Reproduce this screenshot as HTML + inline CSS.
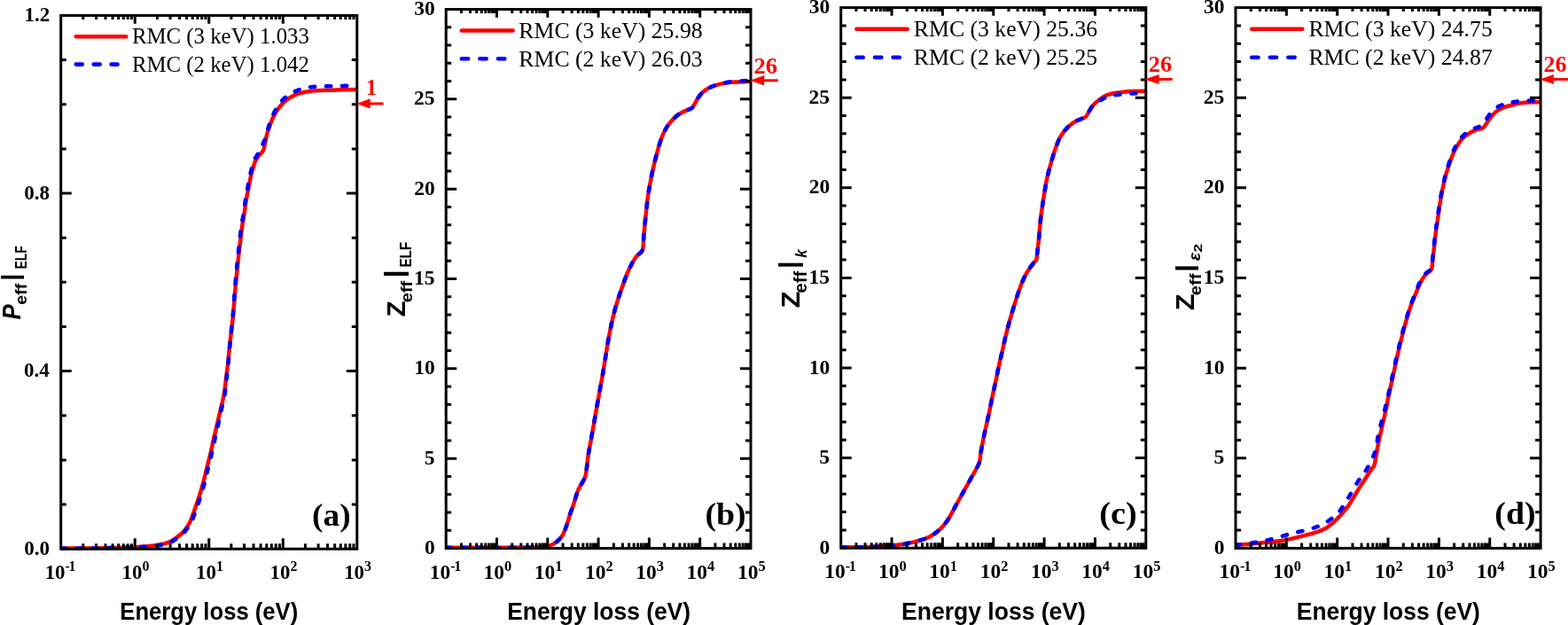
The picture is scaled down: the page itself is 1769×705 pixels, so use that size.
<!DOCTYPE html>
<html><head><meta charset="utf-8"><title>Effective number of electrons</title><style>html,body{margin:0;padding:0;background:#fff;overflow:hidden;}svg{display:block;}</style></head><body>
<svg width="1769" height="705" viewBox="0 0 1769 705">
<rect x="0" y="0" width="1769" height="705" fill="#fff"/>
<clipPath id="clipa"><rect x="68.7" y="15.95" width="334.10" height="604.45"/></clipPath>
<g clip-path="url(#clipa)" fill="none" stroke-linejoin="round">
<path d="M68.70,618.60 C75.58,618.55 96.12,618.52 110.00,618.30 C123.88,618.08 141.08,617.80 152.00,617.30 C162.92,616.80 170.00,615.97 175.50,615.30 C181.00,614.63 182.17,614.05 185.00,613.30 C187.83,612.55 189.83,612.18 192.50,610.80 C195.17,609.42 198.42,607.02 201.00,605.00 C203.58,602.98 205.83,601.28 208.00,598.70 C210.17,596.12 212.33,592.73 214.00,589.50 C215.67,586.27 216.33,583.85 218.00,579.30 C219.67,574.75 222.15,567.88 224.00,562.20 C225.85,556.52 227.55,550.88 229.10,545.20 C230.65,539.52 231.88,533.78 233.30,528.10 C234.72,522.42 236.27,516.77 237.60,511.10 C238.93,505.43 240.07,499.53 241.30,494.10 C242.53,488.67 243.77,483.78 245.00,478.50 C246.23,473.22 247.42,467.93 248.70,462.40 C249.98,456.87 251.67,450.98 252.70,445.30 C253.73,439.62 254.18,433.97 254.90,428.30 C255.62,422.63 256.42,416.52 257.00,411.30 C257.58,406.08 257.88,401.98 258.40,397.00 C258.92,392.02 259.33,388.27 260.10,381.40 C260.87,374.53 262.07,365.52 263.00,355.80 C263.93,346.08 264.70,333.98 265.70,323.10 C266.70,312.22 267.80,301.37 269.00,290.50 C270.20,279.63 271.78,266.32 272.90,257.90 C274.02,249.48 274.88,245.45 275.70,240.00 C276.52,234.55 276.98,230.03 277.80,225.20 C278.62,220.37 279.65,215.73 280.60,211.00 C281.55,206.27 282.32,201.53 283.50,196.80 C284.68,192.07 286.28,186.15 287.70,182.60 C289.12,179.05 290.45,177.63 292.00,175.50 C293.55,173.37 295.82,172.17 297.00,169.80 C298.18,167.43 298.40,164.37 299.10,161.30 C299.80,158.23 300.48,154.18 301.20,151.40 C301.92,148.62 302.20,147.87 303.40,144.60 C304.60,141.33 306.38,135.82 308.40,131.80 C310.42,127.78 312.67,123.93 315.50,120.50 C318.33,117.07 321.87,113.68 325.40,111.20 C328.93,108.72 332.45,107.02 336.70,105.60 C340.95,104.18 344.98,103.35 350.90,102.70 C356.82,102.05 363.57,101.98 372.20,101.70 C380.83,101.42 397.62,101.12 402.70,101.00" stroke="#ff0000" stroke-width="4.5" stroke-linecap="round"/>
<path d="M68.70,618.60 C75.58,618.55 96.12,618.50 110.00,618.30 C123.88,618.10 141.08,617.85 152.00,617.40 C162.92,616.95 170.00,616.18 175.50,615.60 C181.00,615.02 182.17,614.57 185.00,613.90 C187.83,613.23 189.83,612.88 192.50,611.60 C195.17,610.32 198.42,608.10 201.00,606.20 C203.58,604.30 205.67,602.82 208.00,600.20 C210.33,597.58 213.08,593.90 215.00,590.50 C216.92,587.10 217.75,584.47 219.50,579.80 C221.25,575.13 223.65,568.27 225.50,562.50 C227.35,556.73 229.07,550.93 230.60,545.20 C232.13,539.47 233.30,533.78 234.70,528.10 C236.10,522.42 237.68,516.77 239.00,511.10 C240.32,505.43 241.40,499.53 242.60,494.10 C243.80,488.67 245.02,483.78 246.20,478.50 C247.38,473.22 248.48,467.93 249.70,462.40 C250.92,456.87 252.53,450.98 253.50,445.30 C254.47,439.62 254.85,433.97 255.50,428.30 C256.15,422.63 256.88,416.52 257.40,411.30 C257.92,406.08 258.15,401.98 258.60,397.00 C259.05,392.02 259.40,388.32 260.10,381.40 C260.80,374.48 261.93,365.32 262.80,355.50 C263.67,345.68 264.37,333.50 265.30,322.50 C266.23,311.50 267.25,300.50 268.40,289.50 C269.55,278.50 271.10,264.75 272.20,256.50 C273.30,248.25 274.20,245.25 275.00,240.00 C275.80,234.75 276.23,229.83 277.00,225.00 C277.77,220.17 278.70,215.75 279.60,211.00 C280.50,206.25 281.30,201.33 282.40,196.50 C283.50,191.67 284.93,185.55 286.20,182.00 C287.47,178.45 288.67,177.42 290.00,175.20 C291.33,172.98 293.03,170.98 294.20,168.70 C295.37,166.42 296.05,163.87 297.00,161.50 C297.95,159.13 298.72,158.15 299.90,154.50 C301.08,150.85 302.45,144.33 304.10,139.60 C305.75,134.87 307.43,130.47 309.80,126.10 C312.17,121.73 315.00,116.93 318.30,113.40 C321.60,109.87 325.35,107.27 329.60,104.90 C333.85,102.53 338.58,100.43 343.80,99.20 C349.02,97.97 354.52,97.85 360.90,97.50 C367.28,97.15 375.13,97.28 382.10,97.10 C389.07,96.92 399.27,96.52 402.70,96.40" stroke="#0000ff" stroke-width="4.6" stroke-linecap="round" stroke-dasharray="5.2 12.8"/>
</g>
<path d="M93.84,619.2 V613.2 M93.84,17.45 V21.95 M108.55,619.2 V613.2 M108.55,17.45 V21.95 M118.99,619.2 V613.2 M118.99,17.45 V21.95 M127.08,619.2 V613.2 M127.08,17.45 V21.95 M133.70,619.2 V613.2 M133.70,17.45 V21.95 M139.29,619.2 V613.2 M139.29,17.45 V21.95 M144.13,619.2 V613.2 M144.13,17.45 V21.95 M148.40,619.2 V613.2 M148.40,17.45 V21.95 M152.23,619.2 V607.2 M152.23,17.45 V26.65 M177.37,619.2 V613.2 M177.37,17.45 V21.95 M192.08,619.2 V613.2 M192.08,17.45 V21.95 M202.51,619.2 V613.2 M202.51,17.45 V21.95 M210.61,619.2 V613.2 M210.61,17.45 V21.95 M217.22,619.2 V613.2 M217.22,17.45 V21.95 M222.81,619.2 V613.2 M222.81,17.45 V21.95 M227.66,619.2 V613.2 M227.66,17.45 V21.95 M231.93,619.2 V613.2 M231.93,17.45 V21.95 M235.75,619.2 V607.2 M235.75,17.45 V26.65 M260.89,619.2 V613.2 M260.89,17.45 V21.95 M275.60,619.2 V613.2 M275.60,17.45 V21.95 M286.04,619.2 V613.2 M286.04,17.45 V21.95 M294.13,619.2 V613.2 M294.13,17.45 V21.95 M300.75,619.2 V613.2 M300.75,17.45 V21.95 M306.34,619.2 V613.2 M306.34,17.45 V21.95 M311.18,619.2 V613.2 M311.18,17.45 V21.95 M315.45,619.2 V613.2 M315.45,17.45 V21.95 M319.28,619.2 V607.2 M319.28,17.45 V26.65 M344.42,619.2 V613.2 M344.42,17.45 V21.95 M359.13,619.2 V613.2 M359.13,17.45 V21.95 M369.56,619.2 V613.2 M369.56,17.45 V21.95 M377.66,619.2 V613.2 M377.66,17.45 V21.95 M384.27,619.2 V613.2 M384.27,17.45 V21.95 M389.86,619.2 V613.2 M389.86,17.45 V21.95 M394.71,619.2 V613.2 M394.71,17.45 V21.95 M398.98,619.2 V613.2 M398.98,17.45 V21.95 M68.7,569.05 H74.7 M402.8,569.05 H396.8 M68.7,518.91 H74.7 M402.8,518.91 H396.8 M68.7,468.76 H74.7 M402.8,468.76 H396.8 M68.7,418.62 H80.7 M402.8,418.62 H390.8 M68.7,368.47 H74.7 M402.8,368.47 H396.8 M68.7,318.32 H74.7 M402.8,318.32 H396.8 M68.7,268.18 H74.7 M402.8,268.18 H396.8 M68.7,218.03 H80.7 M402.8,218.03 H390.8 M68.7,167.89 H74.7 M402.8,167.89 H396.8 M68.7,117.74 H74.7 M402.8,117.74 H396.8 M68.7,67.60 H74.7 M402.8,67.60 H396.8" stroke="#000" stroke-width="3.0" fill="none"/>
<rect x="68.7" y="17.45" width="334.10" height="601.75" fill="none" stroke="#000" stroke-width="3.0"/>
<clipPath id="clipb"><rect x="503.2" y="9.0" width="343.80" height="610.70"/></clipPath>
<g clip-path="url(#clipb)" fill="none" stroke-linejoin="round">
<path d="M503.20,617.80 C512.67,617.80 543.87,617.85 560.00,617.80 C576.13,617.75 591.33,617.63 600.00,617.50 C608.67,617.37 608.65,617.32 612.00,617.00 C615.35,616.68 617.33,616.65 620.10,615.60 C622.87,614.55 626.18,612.65 628.60,610.70 C631.02,608.75 632.88,606.73 634.60,603.90 C636.32,601.07 637.48,597.67 638.90,593.70 C640.32,589.73 641.68,584.37 643.10,580.10 C644.52,575.83 645.98,572.37 647.40,568.10 C648.82,563.83 650.18,558.18 651.60,554.50 C653.02,550.82 654.48,548.70 655.90,546.00 C657.32,543.30 659.12,541.13 660.10,538.30 C661.08,535.47 661.22,533.12 661.80,529.00 C662.38,524.88 662.88,518.43 663.60,513.60 C664.32,508.77 665.38,503.93 666.10,500.00 C666.82,496.07 666.65,497.08 667.90,490.00 C669.15,482.92 672.08,466.02 673.60,457.50 C675.12,448.98 675.87,445.15 677.00,438.90 C678.13,432.65 679.43,425.68 680.40,420.00 C681.37,414.32 681.60,412.05 682.80,404.80 C684.00,397.55 685.85,385.48 687.60,376.50 C689.35,367.52 691.17,358.95 693.30,350.90 C695.43,342.85 697.80,335.77 700.40,328.20 C703.00,320.63 706.07,311.88 708.90,305.50 C711.73,299.12 714.73,293.82 717.40,289.90 C720.07,285.98 723.40,286.20 724.90,282.00 C726.40,277.80 725.80,271.07 726.40,264.70 C727.00,258.33 727.77,250.75 728.50,243.80 C729.23,236.85 729.92,229.45 730.80,223.00 C731.68,216.55 732.80,210.57 733.80,205.10 C734.80,199.63 735.55,195.67 736.80,190.20 C738.05,184.73 739.82,177.75 741.30,172.30 C742.78,166.85 744.22,161.72 745.70,157.50 C747.18,153.28 748.47,150.23 750.20,147.00 C751.93,143.77 753.87,140.83 756.10,138.10 C758.33,135.37 761.12,132.62 763.60,130.60 C766.08,128.58 768.85,127.13 771.00,126.00 C773.15,124.87 774.82,124.57 776.50,123.80 C778.18,123.03 779.77,122.72 781.10,121.40 C782.43,120.08 783.37,117.82 784.50,115.90 C785.63,113.98 786.48,111.90 787.90,109.90 C789.32,107.90 791.02,105.67 793.00,103.90 C794.98,102.13 797.25,100.63 799.80,99.30 C802.35,97.97 804.75,96.90 808.30,95.90 C811.85,94.90 816.85,93.88 821.10,93.30 C825.35,92.72 829.48,92.63 833.80,92.40 C838.12,92.17 844.80,91.98 847.00,91.90" stroke="#ff0000" stroke-width="4.5" stroke-linecap="round"/>
<path d="M503.20,617.80 C512.67,617.80 543.87,617.85 560.00,617.80 C576.13,617.75 591.33,617.63 600.00,617.50 C608.67,617.37 608.65,617.32 612.00,617.00 C615.35,616.68 617.33,616.65 620.10,615.60 C622.87,614.55 626.18,612.65 628.60,610.70 C631.02,608.75 632.88,606.73 634.60,603.90 C636.32,601.07 637.48,597.67 638.90,593.70 C640.32,589.73 641.68,584.37 643.10,580.10 C644.52,575.83 645.98,572.37 647.40,568.10 C648.82,563.83 650.18,558.18 651.60,554.50 C653.02,550.82 654.48,548.70 655.90,546.00 C657.32,543.30 659.12,541.13 660.10,538.30 C661.08,535.47 661.22,533.12 661.80,529.00 C662.38,524.88 662.88,518.43 663.60,513.60 C664.32,508.77 665.38,503.93 666.10,500.00 C666.82,496.07 666.65,497.08 667.90,490.00 C669.15,482.92 672.08,466.02 673.60,457.50 C675.12,448.98 675.87,445.15 677.00,438.90 C678.13,432.65 679.43,425.68 680.40,420.00 C681.37,414.32 681.60,412.05 682.80,404.80 C684.00,397.55 685.85,385.48 687.60,376.50 C689.35,367.52 691.17,358.95 693.30,350.90 C695.43,342.85 697.80,335.77 700.40,328.20 C703.00,320.63 706.07,311.88 708.90,305.50 C711.73,299.12 714.73,293.82 717.40,289.90 C720.07,285.98 723.40,286.20 724.90,282.00 C726.40,277.80 725.80,271.07 726.40,264.70 C727.00,258.33 727.77,250.75 728.50,243.80 C729.23,236.85 729.92,229.45 730.80,223.00 C731.68,216.55 732.80,210.57 733.80,205.10 C734.80,199.63 735.55,195.67 736.80,190.20 C738.05,184.73 739.82,177.75 741.30,172.30 C742.78,166.85 744.22,161.72 745.70,157.50 C747.18,153.28 748.47,150.23 750.20,147.00 C751.93,143.77 753.87,140.83 756.10,138.10 C758.33,135.37 761.12,132.62 763.60,130.60 C766.08,128.58 768.85,127.13 771.00,126.00 C773.15,124.87 774.82,124.57 776.50,123.80 C778.18,123.03 779.77,122.72 781.10,121.40 C782.43,120.08 783.37,117.82 784.50,115.90 C785.63,113.98 786.48,111.90 787.90,109.90 C789.32,107.90 791.02,105.67 793.00,103.90 C794.98,102.13 797.25,100.63 799.80,99.30 C802.35,97.97 804.75,97.00 808.30,95.90 C811.85,94.80 816.85,93.42 821.10,92.70 C825.35,91.98 829.48,91.90 833.80,91.60 C838.12,91.30 844.80,91.02 847.00,90.90" stroke="#0000ff" stroke-width="4.6" stroke-linecap="round" stroke-dasharray="5.2 12.8"/>
</g>
<path d="M520.45,618.5 V612.5 M520.45,10.5 V15.0 M530.54,618.5 V612.5 M530.54,10.5 V15.0 M537.70,618.5 V612.5 M537.70,10.5 V15.0 M543.25,618.5 V612.5 M543.25,10.5 V15.0 M547.79,618.5 V612.5 M547.79,10.5 V15.0 M551.62,618.5 V612.5 M551.62,10.5 V15.0 M554.95,618.5 V612.5 M554.95,10.5 V15.0 M557.88,618.5 V612.5 M557.88,10.5 V15.0 M560.50,618.5 V606.5 M560.50,10.5 V19.7 M577.75,618.5 V612.5 M577.75,10.5 V15.0 M587.84,618.5 V612.5 M587.84,10.5 V15.0 M595.00,618.5 V612.5 M595.00,10.5 V15.0 M600.55,618.5 V612.5 M600.55,10.5 V15.0 M605.09,618.5 V612.5 M605.09,10.5 V15.0 M608.92,618.5 V612.5 M608.92,10.5 V15.0 M612.25,618.5 V612.5 M612.25,10.5 V15.0 M615.18,618.5 V612.5 M615.18,10.5 V15.0 M617.80,618.5 V606.5 M617.80,10.5 V19.7 M635.05,618.5 V612.5 M635.05,10.5 V15.0 M645.14,618.5 V612.5 M645.14,10.5 V15.0 M652.30,618.5 V612.5 M652.30,10.5 V15.0 M657.85,618.5 V612.5 M657.85,10.5 V15.0 M662.39,618.5 V612.5 M662.39,10.5 V15.0 M666.22,618.5 V612.5 M666.22,10.5 V15.0 M669.55,618.5 V612.5 M669.55,10.5 V15.0 M672.48,618.5 V612.5 M672.48,10.5 V15.0 M675.10,618.5 V606.5 M675.10,10.5 V19.7 M692.35,618.5 V612.5 M692.35,10.5 V15.0 M702.44,618.5 V612.5 M702.44,10.5 V15.0 M709.60,618.5 V612.5 M709.60,10.5 V15.0 M715.15,618.5 V612.5 M715.15,10.5 V15.0 M719.69,618.5 V612.5 M719.69,10.5 V15.0 M723.52,618.5 V612.5 M723.52,10.5 V15.0 M726.85,618.5 V612.5 M726.85,10.5 V15.0 M729.78,618.5 V612.5 M729.78,10.5 V15.0 M732.40,618.5 V606.5 M732.40,10.5 V19.7 M749.65,618.5 V612.5 M749.65,10.5 V15.0 M759.74,618.5 V612.5 M759.74,10.5 V15.0 M766.90,618.5 V612.5 M766.90,10.5 V15.0 M772.45,618.5 V612.5 M772.45,10.5 V15.0 M776.99,618.5 V612.5 M776.99,10.5 V15.0 M780.82,618.5 V612.5 M780.82,10.5 V15.0 M784.15,618.5 V612.5 M784.15,10.5 V15.0 M787.08,618.5 V612.5 M787.08,10.5 V15.0 M789.70,618.5 V606.5 M789.70,10.5 V19.7 M806.95,618.5 V612.5 M806.95,10.5 V15.0 M817.04,618.5 V612.5 M817.04,10.5 V15.0 M824.20,618.5 V612.5 M824.20,10.5 V15.0 M829.75,618.5 V612.5 M829.75,10.5 V15.0 M834.29,618.5 V612.5 M834.29,10.5 V15.0 M838.12,618.5 V612.5 M838.12,10.5 V15.0 M841.45,618.5 V612.5 M841.45,10.5 V15.0 M844.38,618.5 V612.5 M844.38,10.5 V15.0 M503.2,598.23 H509.2 M847.0,598.23 H841.0 M503.2,577.97 H509.2 M847.0,577.97 H841.0 M503.2,557.70 H509.2 M847.0,557.70 H841.0 M503.2,537.43 H509.2 M847.0,537.43 H841.0 M503.2,517.17 H515.2 M847.0,517.17 H835.0 M503.2,496.90 H509.2 M847.0,496.90 H841.0 M503.2,476.63 H509.2 M847.0,476.63 H841.0 M503.2,456.37 H509.2 M847.0,456.37 H841.0 M503.2,436.10 H509.2 M847.0,436.10 H841.0 M503.2,415.83 H515.2 M847.0,415.83 H835.0 M503.2,395.57 H509.2 M847.0,395.57 H841.0 M503.2,375.30 H509.2 M847.0,375.30 H841.0 M503.2,355.03 H509.2 M847.0,355.03 H841.0 M503.2,334.77 H509.2 M847.0,334.77 H841.0 M503.2,314.50 H515.2 M847.0,314.50 H835.0 M503.2,294.23 H509.2 M847.0,294.23 H841.0 M503.2,273.97 H509.2 M847.0,273.97 H841.0 M503.2,253.70 H509.2 M847.0,253.70 H841.0 M503.2,233.43 H509.2 M847.0,233.43 H841.0 M503.2,213.17 H515.2 M847.0,213.17 H835.0 M503.2,192.90 H509.2 M847.0,192.90 H841.0 M503.2,172.63 H509.2 M847.0,172.63 H841.0 M503.2,152.37 H509.2 M847.0,152.37 H841.0 M503.2,132.10 H509.2 M847.0,132.10 H841.0 M503.2,111.83 H515.2 M847.0,111.83 H835.0 M503.2,91.57 H509.2 M847.0,91.57 H841.0 M503.2,71.30 H509.2 M847.0,71.30 H841.0 M503.2,51.03 H509.2 M847.0,51.03 H841.0 M503.2,30.77 H509.2 M847.0,30.77 H841.0" stroke="#000" stroke-width="3.0" fill="none"/>
<rect x="503.2" y="10.5" width="343.80" height="608.00" fill="none" stroke="#000" stroke-width="3.0"/>
<clipPath id="clipc"><rect x="948.7" y="7.1" width="344.10" height="612.30"/></clipPath>
<g clip-path="url(#clipc)" fill="none" stroke-linejoin="round">
<path d="M948.70,617.40 C953.92,617.33 971.28,617.28 980.00,617.00 C988.72,616.72 994.65,616.20 1001.00,615.70 C1007.35,615.20 1012.42,614.90 1018.10,614.00 C1023.78,613.10 1030.00,611.72 1035.10,610.30 C1040.20,608.88 1044.45,607.72 1048.70,605.50 C1052.95,603.28 1057.20,600.12 1060.60,597.00 C1064.00,593.88 1066.25,591.05 1069.10,586.80 C1071.95,582.55 1074.85,576.60 1077.70,571.50 C1080.55,566.40 1083.37,561.30 1086.20,556.20 C1089.03,551.10 1091.67,546.43 1094.70,540.90 C1097.73,535.37 1102.47,527.82 1104.40,523.00 C1106.33,518.18 1105.68,515.53 1106.30,512.00 C1106.92,508.47 1107.33,505.78 1108.10,501.80 C1108.87,497.82 1109.62,494.07 1110.90,488.10 C1112.18,482.13 1114.28,473.10 1115.80,466.00 C1117.32,458.90 1118.72,451.60 1120.00,445.50 C1121.28,439.40 1122.33,434.92 1123.50,429.40 C1124.67,423.88 1125.82,417.83 1127.00,412.40 C1128.18,406.97 1129.42,402.02 1130.60,396.80 C1131.78,391.58 1132.92,386.08 1134.10,381.10 C1135.28,376.12 1136.50,371.40 1137.70,366.90 C1138.90,362.40 1140.00,358.50 1141.30,354.10 C1142.60,349.70 1144.15,344.75 1145.50,340.50 C1146.85,336.25 1148.00,332.57 1149.40,328.60 C1150.80,324.63 1152.48,320.02 1153.90,316.70 C1155.32,313.38 1156.50,311.18 1157.90,308.70 C1159.30,306.22 1160.82,303.95 1162.30,301.80 C1163.78,299.65 1165.63,297.30 1166.80,295.80 C1167.97,294.30 1168.72,294.62 1169.30,292.80 C1169.88,290.98 1169.97,287.70 1170.30,284.90 C1170.63,282.10 1171.00,278.70 1171.30,276.00 C1171.60,273.30 1171.60,273.88 1172.10,268.70 C1172.60,263.52 1173.43,252.35 1174.30,244.90 C1175.17,237.45 1176.22,230.95 1177.30,224.00 C1178.38,217.05 1179.47,209.65 1180.80,203.20 C1182.13,196.75 1183.80,190.77 1185.30,185.30 C1186.80,179.83 1188.07,175.37 1189.80,170.40 C1191.53,165.43 1193.47,159.72 1195.70,155.50 C1197.93,151.28 1200.47,148.07 1203.20,145.10 C1205.93,142.13 1209.47,139.47 1212.10,137.70 C1214.73,135.93 1216.82,135.53 1219.00,134.50 C1221.18,133.47 1223.45,133.20 1225.20,131.50 C1226.95,129.80 1228.08,126.50 1229.50,124.30 C1230.92,122.10 1231.87,120.30 1233.70,118.30 C1235.53,116.30 1237.95,114.15 1240.50,112.30 C1243.05,110.45 1245.87,108.47 1249.00,107.20 C1252.13,105.93 1255.03,105.40 1259.30,104.70 C1263.57,104.00 1269.02,103.33 1274.60,103.00 C1280.18,102.67 1289.77,102.75 1292.80,102.70" stroke="#ff0000" stroke-width="4.5" stroke-linecap="round"/>
<path d="M948.70,617.40 C953.92,617.33 971.28,617.28 980.00,617.00 C988.72,616.72 994.65,616.20 1001.00,615.70 C1007.35,615.20 1012.42,614.90 1018.10,614.00 C1023.78,613.10 1030.00,611.72 1035.10,610.30 C1040.20,608.88 1044.45,607.72 1048.70,605.50 C1052.95,603.28 1057.20,600.12 1060.60,597.00 C1064.00,593.88 1066.25,591.05 1069.10,586.80 C1071.95,582.55 1074.85,576.60 1077.70,571.50 C1080.55,566.40 1083.37,561.30 1086.20,556.20 C1089.03,551.10 1091.67,546.43 1094.70,540.90 C1097.73,535.37 1102.47,527.82 1104.40,523.00 C1106.33,518.18 1105.68,515.53 1106.30,512.00 C1106.92,508.47 1107.33,505.78 1108.10,501.80 C1108.87,497.82 1109.62,494.07 1110.90,488.10 C1112.18,482.13 1114.28,473.10 1115.80,466.00 C1117.32,458.90 1118.72,451.60 1120.00,445.50 C1121.28,439.40 1122.33,434.92 1123.50,429.40 C1124.67,423.88 1125.82,417.83 1127.00,412.40 C1128.18,406.97 1129.42,402.02 1130.60,396.80 C1131.78,391.58 1132.92,386.08 1134.10,381.10 C1135.28,376.12 1136.50,371.40 1137.70,366.90 C1138.90,362.40 1140.00,358.50 1141.30,354.10 C1142.60,349.70 1144.15,344.75 1145.50,340.50 C1146.85,336.25 1148.00,332.57 1149.40,328.60 C1150.80,324.63 1152.48,320.02 1153.90,316.70 C1155.32,313.38 1156.50,311.18 1157.90,308.70 C1159.30,306.22 1160.82,303.95 1162.30,301.80 C1163.78,299.65 1165.63,297.30 1166.80,295.80 C1167.97,294.30 1168.72,294.62 1169.30,292.80 C1169.88,290.98 1169.97,287.70 1170.30,284.90 C1170.63,282.10 1171.00,278.70 1171.30,276.00 C1171.60,273.30 1171.60,273.88 1172.10,268.70 C1172.60,263.52 1173.43,252.35 1174.30,244.90 C1175.17,237.45 1176.22,230.95 1177.30,224.00 C1178.38,217.05 1179.47,209.65 1180.80,203.20 C1182.13,196.75 1183.80,190.77 1185.30,185.30 C1186.80,179.83 1188.07,175.37 1189.80,170.40 C1191.53,165.43 1193.47,159.72 1195.70,155.50 C1197.93,151.28 1200.47,148.07 1203.20,145.10 C1205.93,142.13 1209.47,139.47 1212.10,137.70 C1214.73,135.93 1216.82,135.53 1219.00,134.50 C1221.18,133.47 1223.45,133.20 1225.20,131.50 C1226.95,129.80 1228.08,126.50 1229.50,124.30 C1230.92,122.10 1231.87,120.05 1233.70,118.30 C1235.53,116.55 1237.95,115.32 1240.50,113.80 C1243.05,112.28 1245.87,110.33 1249.00,109.20 C1252.13,108.07 1255.03,107.62 1259.30,107.00 C1263.57,106.38 1269.02,105.82 1274.60,105.50 C1280.18,105.18 1289.77,105.17 1292.80,105.10" stroke="#0000ff" stroke-width="4.6" stroke-linecap="round" stroke-dasharray="5.2 12.8"/>
</g>
<path d="M965.96,618.2 V612.2 M965.96,8.6 V13.1 M976.06,618.2 V612.2 M976.06,8.6 V13.1 M983.23,618.2 V612.2 M983.23,8.6 V13.1 M988.79,618.2 V612.2 M988.79,8.6 V13.1 M993.33,618.2 V612.2 M993.33,8.6 V13.1 M997.17,618.2 V612.2 M997.17,8.6 V13.1 M1000.49,618.2 V612.2 M1000.49,8.6 V13.1 M1003.43,618.2 V612.2 M1003.43,8.6 V13.1 M1006.05,618.2 V606.2 M1006.05,8.6 V17.799999999999997 M1023.31,618.2 V612.2 M1023.31,8.6 V13.1 M1033.41,618.2 V612.2 M1033.41,8.6 V13.1 M1040.58,618.2 V612.2 M1040.58,8.6 V13.1 M1046.14,618.2 V612.2 M1046.14,8.6 V13.1 M1050.68,618.2 V612.2 M1050.68,8.6 V13.1 M1054.52,618.2 V612.2 M1054.52,8.6 V13.1 M1057.84,618.2 V612.2 M1057.84,8.6 V13.1 M1060.78,618.2 V612.2 M1060.78,8.6 V13.1 M1063.40,618.2 V606.2 M1063.40,8.6 V17.799999999999997 M1080.66,618.2 V612.2 M1080.66,8.6 V13.1 M1090.76,618.2 V612.2 M1090.76,8.6 V13.1 M1097.93,618.2 V612.2 M1097.93,8.6 V13.1 M1103.49,618.2 V612.2 M1103.49,8.6 V13.1 M1108.03,618.2 V612.2 M1108.03,8.6 V13.1 M1111.87,618.2 V612.2 M1111.87,8.6 V13.1 M1115.19,618.2 V612.2 M1115.19,8.6 V13.1 M1118.13,618.2 V612.2 M1118.13,8.6 V13.1 M1120.75,618.2 V606.2 M1120.75,8.6 V17.799999999999997 M1138.01,618.2 V612.2 M1138.01,8.6 V13.1 M1148.11,618.2 V612.2 M1148.11,8.6 V13.1 M1155.28,618.2 V612.2 M1155.28,8.6 V13.1 M1160.84,618.2 V612.2 M1160.84,8.6 V13.1 M1165.38,618.2 V612.2 M1165.38,8.6 V13.1 M1169.22,618.2 V612.2 M1169.22,8.6 V13.1 M1172.54,618.2 V612.2 M1172.54,8.6 V13.1 M1175.48,618.2 V612.2 M1175.48,8.6 V13.1 M1178.10,618.2 V606.2 M1178.10,8.6 V17.799999999999997 M1195.36,618.2 V612.2 M1195.36,8.6 V13.1 M1205.46,618.2 V612.2 M1205.46,8.6 V13.1 M1212.63,618.2 V612.2 M1212.63,8.6 V13.1 M1218.19,618.2 V612.2 M1218.19,8.6 V13.1 M1222.73,618.2 V612.2 M1222.73,8.6 V13.1 M1226.57,618.2 V612.2 M1226.57,8.6 V13.1 M1229.89,618.2 V612.2 M1229.89,8.6 V13.1 M1232.83,618.2 V612.2 M1232.83,8.6 V13.1 M1235.45,618.2 V606.2 M1235.45,8.6 V17.799999999999997 M1252.71,618.2 V612.2 M1252.71,8.6 V13.1 M1262.81,618.2 V612.2 M1262.81,8.6 V13.1 M1269.98,618.2 V612.2 M1269.98,8.6 V13.1 M1275.54,618.2 V612.2 M1275.54,8.6 V13.1 M1280.08,618.2 V612.2 M1280.08,8.6 V13.1 M1283.92,618.2 V612.2 M1283.92,8.6 V13.1 M1287.24,618.2 V612.2 M1287.24,8.6 V13.1 M1290.18,618.2 V612.2 M1290.18,8.6 V13.1 M948.7,597.88 H954.7 M1292.8,597.88 H1286.8 M948.7,577.56 H954.7 M1292.8,577.56 H1286.8 M948.7,557.24 H954.7 M1292.8,557.24 H1286.8 M948.7,536.92 H954.7 M1292.8,536.92 H1286.8 M948.7,516.60 H960.7 M1292.8,516.60 H1280.8 M948.7,496.28 H954.7 M1292.8,496.28 H1286.8 M948.7,475.96 H954.7 M1292.8,475.96 H1286.8 M948.7,455.64 H954.7 M1292.8,455.64 H1286.8 M948.7,435.32 H954.7 M1292.8,435.32 H1286.8 M948.7,415.00 H960.7 M1292.8,415.00 H1280.8 M948.7,394.68 H954.7 M1292.8,394.68 H1286.8 M948.7,374.36 H954.7 M1292.8,374.36 H1286.8 M948.7,354.04 H954.7 M1292.8,354.04 H1286.8 M948.7,333.72 H954.7 M1292.8,333.72 H1286.8 M948.7,313.40 H960.7 M1292.8,313.40 H1280.8 M948.7,293.08 H954.7 M1292.8,293.08 H1286.8 M948.7,272.76 H954.7 M1292.8,272.76 H1286.8 M948.7,252.44 H954.7 M1292.8,252.44 H1286.8 M948.7,232.12 H954.7 M1292.8,232.12 H1286.8 M948.7,211.80 H960.7 M1292.8,211.80 H1280.8 M948.7,191.48 H954.7 M1292.8,191.48 H1286.8 M948.7,171.16 H954.7 M1292.8,171.16 H1286.8 M948.7,150.84 H954.7 M1292.8,150.84 H1286.8 M948.7,130.52 H954.7 M1292.8,130.52 H1286.8 M948.7,110.20 H960.7 M1292.8,110.20 H1280.8 M948.7,89.88 H954.7 M1292.8,89.88 H1286.8 M948.7,69.56 H954.7 M1292.8,69.56 H1286.8 M948.7,49.24 H954.7 M1292.8,49.24 H1286.8 M948.7,28.92 H954.7 M1292.8,28.92 H1286.8" stroke="#000" stroke-width="3.0" fill="none"/>
<rect x="948.7" y="8.6" width="344.10" height="609.60" fill="none" stroke="#000" stroke-width="3.0"/>
<clipPath id="clipd"><rect x="1394.0" y="7.1" width="344.10" height="612.50"/></clipPath>
<g clip-path="url(#clipd)" fill="none" stroke-linejoin="round">
<path d="M1394.00,614.90 C1398.25,614.53 1410.98,613.53 1419.50,612.70 C1428.02,611.87 1438.00,610.93 1445.10,609.90 C1452.20,608.87 1457.38,607.55 1462.10,606.50 C1466.82,605.45 1469.30,604.72 1473.40,603.60 C1477.50,602.48 1483.10,601.02 1486.70,599.80 C1490.30,598.58 1492.78,597.47 1495.00,596.30 C1497.22,595.13 1498.35,594.05 1500.00,592.80 C1501.65,591.55 1503.23,590.30 1504.90,588.80 C1506.57,587.30 1508.33,585.57 1510.00,583.80 C1511.67,582.03 1512.93,580.55 1514.90,578.20 C1516.87,575.85 1519.65,572.77 1521.80,569.70 C1523.95,566.63 1525.78,563.10 1527.80,559.80 C1529.82,556.50 1531.82,553.20 1533.90,549.90 C1535.98,546.60 1538.15,543.32 1540.30,540.00 C1542.45,536.68 1545.12,532.50 1546.80,530.00 C1548.48,527.50 1549.52,527.25 1550.40,525.00 C1551.28,522.75 1551.25,521.03 1552.10,516.50 C1552.95,511.97 1554.22,504.03 1555.50,497.80 C1556.78,491.57 1558.38,485.33 1559.80,479.10 C1561.22,472.87 1562.95,465.42 1564.00,460.40 C1565.05,455.38 1565.05,454.02 1566.10,449.00 C1567.15,443.98 1568.88,436.82 1570.30,430.30 C1571.72,423.78 1573.18,416.42 1574.60,409.90 C1576.02,403.38 1577.38,397.15 1578.80,391.20 C1580.22,385.25 1581.68,379.58 1583.10,374.20 C1584.52,368.82 1585.88,363.72 1587.30,358.90 C1588.72,354.08 1589.73,350.43 1591.60,345.30 C1593.47,340.17 1596.63,332.63 1598.50,328.10 C1600.37,323.57 1601.13,321.18 1602.80,318.10 C1604.47,315.02 1606.48,311.97 1608.50,309.60 C1610.52,307.23 1613.60,306.50 1614.90,303.90 C1616.20,301.30 1615.83,297.78 1616.30,294.00 C1616.77,290.22 1617.23,285.47 1617.70,281.20 C1618.17,276.93 1618.63,272.43 1619.10,268.40 C1619.57,264.37 1620.05,260.20 1620.50,257.00 C1620.95,253.80 1621.15,253.62 1621.80,249.20 C1622.45,244.78 1623.40,236.73 1624.40,230.50 C1625.40,224.27 1626.53,217.77 1627.80,211.80 C1629.07,205.83 1630.45,200.10 1632.00,194.70 C1633.55,189.30 1635.38,183.93 1637.10,179.40 C1638.82,174.87 1640.30,171.18 1642.30,167.50 C1644.30,163.82 1646.55,160.15 1649.10,157.30 C1651.65,154.45 1654.77,152.25 1657.60,150.40 C1660.43,148.55 1663.55,147.18 1666.10,146.20 C1668.65,145.22 1670.92,145.92 1672.90,144.50 C1674.88,143.08 1676.30,139.97 1678.00,137.70 C1679.70,135.43 1681.42,132.90 1683.10,130.90 C1684.78,128.90 1685.85,127.33 1688.10,125.70 C1690.35,124.07 1693.33,122.37 1696.60,121.10 C1699.87,119.83 1703.87,119.00 1707.70,118.10 C1711.53,117.20 1714.53,116.17 1719.60,115.70 C1724.67,115.23 1735.02,115.37 1738.10,115.30" stroke="#ff0000" stroke-width="4.5" stroke-linecap="round"/>
<path d="M1394.00,614.90 C1398.25,614.33 1412.40,612.72 1419.50,611.50 C1426.60,610.28 1430.35,609.22 1436.60,607.60 C1442.85,605.98 1450.20,603.57 1457.00,601.80 C1463.80,600.03 1471.15,598.93 1477.40,597.00 C1483.65,595.07 1489.10,593.32 1494.50,590.20 C1499.90,587.08 1505.55,582.75 1509.80,578.30 C1514.05,573.85 1516.35,569.27 1520.00,563.50 C1523.65,557.73 1528.05,549.40 1531.70,543.70 C1535.35,538.00 1538.63,534.97 1541.90,529.30 C1545.17,523.63 1549.08,516.37 1551.30,509.70 C1553.52,503.03 1553.70,495.95 1555.20,489.30 C1556.70,482.65 1558.60,476.45 1560.30,469.80 C1562.00,463.15 1563.85,455.98 1565.40,449.40 C1566.95,442.82 1568.17,436.88 1569.60,430.30 C1571.03,423.72 1572.55,416.42 1574.00,409.90 C1575.45,403.38 1576.87,397.15 1578.30,391.20 C1579.73,385.25 1581.18,379.58 1582.60,374.20 C1584.02,368.82 1585.38,363.72 1586.80,358.90 C1588.22,354.08 1589.23,350.52 1591.10,345.30 C1592.97,340.08 1596.13,332.22 1598.00,327.60 C1599.87,322.98 1600.63,320.70 1602.30,317.60 C1603.97,314.50 1605.95,311.40 1608.00,309.00 C1610.05,306.60 1613.27,305.70 1614.60,303.20 C1615.93,300.70 1615.53,297.67 1616.00,294.00 C1616.47,290.33 1616.93,285.47 1617.40,281.20 C1617.87,276.93 1618.33,272.43 1618.80,268.40 C1619.27,264.37 1619.75,260.20 1620.20,257.00 C1620.65,253.80 1620.87,253.62 1621.50,249.20 C1622.13,244.78 1623.02,236.73 1624.00,230.50 C1624.98,224.27 1626.15,217.77 1627.40,211.80 C1628.65,205.83 1629.98,200.17 1631.50,194.70 C1633.02,189.23 1634.83,183.70 1636.50,179.00 C1638.17,174.30 1639.58,170.33 1641.50,166.50 C1643.42,162.67 1645.58,158.95 1648.00,156.00 C1650.42,153.05 1653.27,150.72 1656.00,148.80 C1658.73,146.88 1662.23,145.50 1664.40,144.50 C1666.57,143.50 1667.32,143.93 1669.00,142.80 C1670.68,141.67 1672.45,140.12 1674.50,137.70 C1676.55,135.28 1678.90,131.07 1681.30,128.30 C1683.70,125.53 1685.63,123.08 1688.90,121.10 C1692.17,119.12 1696.07,117.62 1700.90,116.40 C1705.73,115.18 1711.70,114.30 1717.90,113.80 C1724.10,113.30 1734.73,113.47 1738.10,113.40" stroke="#0000ff" stroke-width="4.6" stroke-linecap="round" stroke-dasharray="5.2 12.8"/>
</g>
<path d="M1411.26,618.4 V612.4 M1411.26,8.6 V13.1 M1421.36,618.4 V612.4 M1421.36,8.6 V13.1 M1428.53,618.4 V612.4 M1428.53,8.6 V13.1 M1434.09,618.4 V612.4 M1434.09,8.6 V13.1 M1438.63,618.4 V612.4 M1438.63,8.6 V13.1 M1442.47,618.4 V612.4 M1442.47,8.6 V13.1 M1445.79,618.4 V612.4 M1445.79,8.6 V13.1 M1448.73,618.4 V612.4 M1448.73,8.6 V13.1 M1451.35,618.4 V606.4 M1451.35,8.6 V17.799999999999997 M1468.61,618.4 V612.4 M1468.61,8.6 V13.1 M1478.71,618.4 V612.4 M1478.71,8.6 V13.1 M1485.88,618.4 V612.4 M1485.88,8.6 V13.1 M1491.44,618.4 V612.4 M1491.44,8.6 V13.1 M1495.98,618.4 V612.4 M1495.98,8.6 V13.1 M1499.82,618.4 V612.4 M1499.82,8.6 V13.1 M1503.14,618.4 V612.4 M1503.14,8.6 V13.1 M1506.08,618.4 V612.4 M1506.08,8.6 V13.1 M1508.70,618.4 V606.4 M1508.70,8.6 V17.799999999999997 M1525.96,618.4 V612.4 M1525.96,8.6 V13.1 M1536.06,618.4 V612.4 M1536.06,8.6 V13.1 M1543.23,618.4 V612.4 M1543.23,8.6 V13.1 M1548.79,618.4 V612.4 M1548.79,8.6 V13.1 M1553.33,618.4 V612.4 M1553.33,8.6 V13.1 M1557.17,618.4 V612.4 M1557.17,8.6 V13.1 M1560.49,618.4 V612.4 M1560.49,8.6 V13.1 M1563.43,618.4 V612.4 M1563.43,8.6 V13.1 M1566.05,618.4 V606.4 M1566.05,8.6 V17.799999999999997 M1583.31,618.4 V612.4 M1583.31,8.6 V13.1 M1593.41,618.4 V612.4 M1593.41,8.6 V13.1 M1600.58,618.4 V612.4 M1600.58,8.6 V13.1 M1606.14,618.4 V612.4 M1606.14,8.6 V13.1 M1610.68,618.4 V612.4 M1610.68,8.6 V13.1 M1614.52,618.4 V612.4 M1614.52,8.6 V13.1 M1617.84,618.4 V612.4 M1617.84,8.6 V13.1 M1620.78,618.4 V612.4 M1620.78,8.6 V13.1 M1623.40,618.4 V606.4 M1623.40,8.6 V17.799999999999997 M1640.66,618.4 V612.4 M1640.66,8.6 V13.1 M1650.76,618.4 V612.4 M1650.76,8.6 V13.1 M1657.93,618.4 V612.4 M1657.93,8.6 V13.1 M1663.49,618.4 V612.4 M1663.49,8.6 V13.1 M1668.03,618.4 V612.4 M1668.03,8.6 V13.1 M1671.87,618.4 V612.4 M1671.87,8.6 V13.1 M1675.19,618.4 V612.4 M1675.19,8.6 V13.1 M1678.13,618.4 V612.4 M1678.13,8.6 V13.1 M1680.75,618.4 V606.4 M1680.75,8.6 V17.799999999999997 M1698.01,618.4 V612.4 M1698.01,8.6 V13.1 M1708.11,618.4 V612.4 M1708.11,8.6 V13.1 M1715.28,618.4 V612.4 M1715.28,8.6 V13.1 M1720.84,618.4 V612.4 M1720.84,8.6 V13.1 M1725.38,618.4 V612.4 M1725.38,8.6 V13.1 M1729.22,618.4 V612.4 M1729.22,8.6 V13.1 M1732.54,618.4 V612.4 M1732.54,8.6 V13.1 M1735.48,618.4 V612.4 M1735.48,8.6 V13.1 M1394.0,598.07 H1400.0 M1738.1,598.07 H1732.1 M1394.0,577.75 H1400.0 M1738.1,577.75 H1732.1 M1394.0,557.42 H1400.0 M1738.1,557.42 H1732.1 M1394.0,537.09 H1400.0 M1738.1,537.09 H1732.1 M1394.0,516.77 H1406.0 M1738.1,516.77 H1726.1 M1394.0,496.44 H1400.0 M1738.1,496.44 H1732.1 M1394.0,476.11 H1400.0 M1738.1,476.11 H1732.1 M1394.0,455.79 H1400.0 M1738.1,455.79 H1732.1 M1394.0,435.46 H1400.0 M1738.1,435.46 H1732.1 M1394.0,415.13 H1406.0 M1738.1,415.13 H1726.1 M1394.0,394.81 H1400.0 M1738.1,394.81 H1732.1 M1394.0,374.48 H1400.0 M1738.1,374.48 H1732.1 M1394.0,354.15 H1400.0 M1738.1,354.15 H1732.1 M1394.0,333.83 H1400.0 M1738.1,333.83 H1732.1 M1394.0,313.50 H1406.0 M1738.1,313.50 H1726.1 M1394.0,293.17 H1400.0 M1738.1,293.17 H1732.1 M1394.0,272.85 H1400.0 M1738.1,272.85 H1732.1 M1394.0,252.52 H1400.0 M1738.1,252.52 H1732.1 M1394.0,232.19 H1400.0 M1738.1,232.19 H1732.1 M1394.0,211.87 H1406.0 M1738.1,211.87 H1726.1 M1394.0,191.54 H1400.0 M1738.1,191.54 H1732.1 M1394.0,171.21 H1400.0 M1738.1,171.21 H1732.1 M1394.0,150.89 H1400.0 M1738.1,150.89 H1732.1 M1394.0,130.56 H1400.0 M1738.1,130.56 H1732.1 M1394.0,110.23 H1406.0 M1738.1,110.23 H1726.1 M1394.0,89.91 H1400.0 M1738.1,89.91 H1732.1 M1394.0,69.58 H1400.0 M1738.1,69.58 H1732.1 M1394.0,49.25 H1400.0 M1738.1,49.25 H1732.1 M1394.0,28.93 H1400.0 M1738.1,28.93 H1732.1" stroke="#000" stroke-width="3.0" fill="none"/>
<rect x="1394.0" y="8.6" width="344.10" height="609.80" fill="none" stroke="#000" stroke-width="3.0"/>
<path d="M85.75,41.3 H142.35" stroke="#ff0000" stroke-width="4.5" stroke-linecap="round"/>
<path d="M85.80,72.6 H142.30" stroke="#0000ff" stroke-width="4.6" stroke-linecap="round" stroke-dasharray="7.0 12.9"/>
<path d="M520.75,34.4 H578.75" stroke="#ff0000" stroke-width="4.5" stroke-linecap="round"/>
<path d="M520.80,66.3 H578.70" stroke="#0000ff" stroke-width="4.6" stroke-linecap="round" stroke-dasharray="7.3 13.3"/>
<path d="M966.35,32.7 H1023.75" stroke="#ff0000" stroke-width="4.5" stroke-linecap="round"/>
<path d="M966.40,64.7 H1023.70" stroke="#0000ff" stroke-width="4.6" stroke-linecap="round" stroke-dasharray="7.3 13.3"/>
<path d="M1412.15,32.7 H1469.35" stroke="#ff0000" stroke-width="4.5" stroke-linecap="round"/>
<path d="M1412.20,64.7 H1469.30" stroke="#0000ff" stroke-width="4.6" stroke-linecap="round" stroke-dasharray="7.3 13.3"/>
<path d="M416.6,116.9 H432.5" stroke="#ff0000" stroke-width="3"/>
<path d="M402.0,116.9 L417.6,111.2 L417.6,122.60000000000001 Z" fill="#ff0000"/>
<path d="M861.2,90.8 H877.8" stroke="#ff0000" stroke-width="3"/>
<path d="M846.2,90.8 L862.2,85.1 L862.2,96.5 Z" fill="#ff0000"/>
<path d="M1306.6,89.4 H1322.8" stroke="#ff0000" stroke-width="3"/>
<path d="M1291.2,89.4 L1307.6,83.9 L1307.6,94.9 Z" fill="#ff0000"/>
<path d="M1751.9,89.4 H1769.5" stroke="#ff0000" stroke-width="3"/>
<path d="M1737.0,89.4 L1752.9,83.9 L1752.9,94.9 Z" fill="#ff0000"/>
<text x="27.37" y="625.80" font-size="23.00" font-family="&apos;Liberation Serif&apos;, serif" font-weight="bold" textLength="28.75" lengthAdjust="spacingAndGlyphs">0.0</text>
<text x="26.91" y="425.22" font-size="23.00" font-family="&apos;Liberation Serif&apos;, serif" font-weight="bold" textLength="28.75" lengthAdjust="spacingAndGlyphs">0.4</text>
<text x="27.25" y="224.63" font-size="23.00" font-family="&apos;Liberation Serif&apos;, serif" font-weight="bold" textLength="28.75" lengthAdjust="spacingAndGlyphs">0.8</text>
<text x="27.49" y="24.05" font-size="23.00" font-family="&apos;Liberation Serif&apos;, serif" font-weight="bold" textLength="28.75" lengthAdjust="spacingAndGlyphs">1.2</text>
<text x="478.89" y="625.10" font-size="23.50" font-family="&apos;Liberation Serif&apos;, serif" font-weight="bold" textLength="11.75" lengthAdjust="spacingAndGlyphs">0</text>
<text x="478.77" y="523.77" font-size="23.50" font-family="&apos;Liberation Serif&apos;, serif" font-weight="bold" textLength="11.75" lengthAdjust="spacingAndGlyphs">5</text>
<text x="467.14" y="422.43" font-size="23.50" font-family="&apos;Liberation Serif&apos;, serif" font-weight="bold" textLength="23.50" lengthAdjust="spacingAndGlyphs">10</text>
<text x="467.02" y="321.10" font-size="23.50" font-family="&apos;Liberation Serif&apos;, serif" font-weight="bold" textLength="23.50" lengthAdjust="spacingAndGlyphs">15</text>
<text x="467.14" y="219.77" font-size="23.50" font-family="&apos;Liberation Serif&apos;, serif" font-weight="bold" textLength="23.50" lengthAdjust="spacingAndGlyphs">20</text>
<text x="467.02" y="118.43" font-size="23.50" font-family="&apos;Liberation Serif&apos;, serif" font-weight="bold" textLength="23.50" lengthAdjust="spacingAndGlyphs">25</text>
<text x="467.14" y="17.10" font-size="23.50" font-family="&apos;Liberation Serif&apos;, serif" font-weight="bold" textLength="23.50" lengthAdjust="spacingAndGlyphs">30</text>
<text x="924.39" y="624.80" font-size="23.50" font-family="&apos;Liberation Serif&apos;, serif" font-weight="bold" textLength="11.75" lengthAdjust="spacingAndGlyphs">0</text>
<text x="924.27" y="523.20" font-size="23.50" font-family="&apos;Liberation Serif&apos;, serif" font-weight="bold" textLength="11.75" lengthAdjust="spacingAndGlyphs">5</text>
<text x="912.64" y="421.60" font-size="23.50" font-family="&apos;Liberation Serif&apos;, serif" font-weight="bold" textLength="23.50" lengthAdjust="spacingAndGlyphs">10</text>
<text x="912.52" y="320.00" font-size="23.50" font-family="&apos;Liberation Serif&apos;, serif" font-weight="bold" textLength="23.50" lengthAdjust="spacingAndGlyphs">15</text>
<text x="912.64" y="218.40" font-size="23.50" font-family="&apos;Liberation Serif&apos;, serif" font-weight="bold" textLength="23.50" lengthAdjust="spacingAndGlyphs">20</text>
<text x="912.52" y="116.80" font-size="23.50" font-family="&apos;Liberation Serif&apos;, serif" font-weight="bold" textLength="23.50" lengthAdjust="spacingAndGlyphs">25</text>
<text x="912.64" y="15.20" font-size="23.50" font-family="&apos;Liberation Serif&apos;, serif" font-weight="bold" textLength="23.50" lengthAdjust="spacingAndGlyphs">30</text>
<text x="1369.69" y="625.00" font-size="23.50" font-family="&apos;Liberation Serif&apos;, serif" font-weight="bold" textLength="11.75" lengthAdjust="spacingAndGlyphs">0</text>
<text x="1369.57" y="523.37" font-size="23.50" font-family="&apos;Liberation Serif&apos;, serif" font-weight="bold" textLength="11.75" lengthAdjust="spacingAndGlyphs">5</text>
<text x="1357.94" y="421.73" font-size="23.50" font-family="&apos;Liberation Serif&apos;, serif" font-weight="bold" textLength="23.50" lengthAdjust="spacingAndGlyphs">10</text>
<text x="1357.82" y="320.10" font-size="23.50" font-family="&apos;Liberation Serif&apos;, serif" font-weight="bold" textLength="23.50" lengthAdjust="spacingAndGlyphs">15</text>
<text x="1357.94" y="218.47" font-size="23.50" font-family="&apos;Liberation Serif&apos;, serif" font-weight="bold" textLength="23.50" lengthAdjust="spacingAndGlyphs">20</text>
<text x="1357.82" y="116.83" font-size="23.50" font-family="&apos;Liberation Serif&apos;, serif" font-weight="bold" textLength="23.50" lengthAdjust="spacingAndGlyphs">25</text>
<text x="1357.94" y="15.20" font-size="23.50" font-family="&apos;Liberation Serif&apos;, serif" font-weight="bold" textLength="23.50" lengthAdjust="spacingAndGlyphs">30</text>
<text x="148.96" y="49.00" font-size="24.82" font-family="&apos;Liberation Serif&apos;, serif" textLength="199.93" lengthAdjust="spacingAndGlyphs">RMC (3 keV) 1.033</text>
<text x="148.96" y="80.70" font-size="24.82" font-family="&apos;Liberation Serif&apos;, serif" textLength="199.93" lengthAdjust="spacingAndGlyphs">RMC (2 keV) 1.042</text>
<text x="585.33" y="43.00" font-size="25.74" font-family="&apos;Liberation Serif&apos;, serif" textLength="207.34" lengthAdjust="spacingAndGlyphs">RMC (3 keV) 25.98</text>
<text x="585.33" y="74.80" font-size="25.74" font-family="&apos;Liberation Serif&apos;, serif" textLength="207.34" lengthAdjust="spacingAndGlyphs">RMC (2 keV) 26.03</text>
<text x="1030.83" y="40.90" font-size="25.74" font-family="&apos;Liberation Serif&apos;, serif" textLength="207.34" lengthAdjust="spacingAndGlyphs">RMC (3 keV) 25.36</text>
<text x="1030.83" y="72.60" font-size="25.74" font-family="&apos;Liberation Serif&apos;, serif" textLength="207.34" lengthAdjust="spacingAndGlyphs">RMC (2 keV) 25.25</text>
<text x="1476.43" y="40.90" font-size="25.74" font-family="&apos;Liberation Serif&apos;, serif" textLength="207.34" lengthAdjust="spacingAndGlyphs">RMC (3 keV) 24.75</text>
<text x="1476.43" y="72.60" font-size="25.74" font-family="&apos;Liberation Serif&apos;, serif" textLength="207.34" lengthAdjust="spacingAndGlyphs">RMC (2 keV) 24.87</text>
<text x="352.12" y="592.74" font-size="36.00" font-family="&apos;Liberation Serif&apos;, serif" font-weight="bold" textLength="43.60" lengthAdjust="spacingAndGlyphs">(a)</text>
<text x="795.50" y="591.85" font-size="36.44" font-family="&apos;Liberation Serif&apos;, serif" font-weight="bold" textLength="46.20" lengthAdjust="spacingAndGlyphs">(b)</text>
<text x="1240.28" y="590.74" font-size="36.00" font-family="&apos;Liberation Serif&apos;, serif" font-weight="bold" textLength="42.44" lengthAdjust="spacingAndGlyphs">(c)</text>
<text x="1686.30" y="591.05" font-size="36.44" font-family="&apos;Liberation Serif&apos;, serif" font-weight="bold" textLength="46.20" lengthAdjust="spacingAndGlyphs">(d)</text>
<text x="412.90" y="107.00" font-size="25.71" font-family="&apos;Liberation Serif&apos;, serif" font-weight="bold" fill="#ff0000" textLength="11.89" lengthAdjust="spacingAndGlyphs">1</text>
<text x="850.53" y="82.70" font-size="26.17" font-family="&apos;Liberation Serif&apos;, serif" font-weight="bold" fill="#ff0000" textLength="26.67" lengthAdjust="spacingAndGlyphs">26</text>
<text x="1295.85" y="80.90" font-size="26.17" font-family="&apos;Liberation Serif&apos;, serif" font-weight="bold" fill="#ff0000" textLength="26.34" lengthAdjust="spacingAndGlyphs">26</text>
<text x="1741.56" y="80.90" font-size="26.17" font-family="&apos;Liberation Serif&apos;, serif" font-weight="bold" fill="#ff0000" textLength="25.91" lengthAdjust="spacingAndGlyphs">26</text>
<text x="135.33" y="698.80" font-size="27.60" font-family="&apos;Liberation Sans&apos;, sans-serif" font-weight="bold" textLength="200.87" lengthAdjust="spacingAndGlyphs">Energy loss (eV)</text>
<text x="572.18" y="698.80" font-size="27.60" font-family="&apos;Liberation Sans&apos;, sans-serif" font-weight="bold" textLength="206.86" lengthAdjust="spacingAndGlyphs">Energy loss (eV)</text>
<text x="1017.08" y="698.80" font-size="27.60" font-family="&apos;Liberation Sans&apos;, sans-serif" font-weight="bold" textLength="207.77" lengthAdjust="spacingAndGlyphs">Energy loss (eV)</text>
<text x="1462.78" y="698.80" font-size="27.60" font-family="&apos;Liberation Sans&apos;, sans-serif" font-weight="bold" textLength="207.17" lengthAdjust="spacingAndGlyphs">Energy loss (eV)</text>
<text transform="rotate(-90)" x="-360.51" y="22.54" font-size="28.61" font-family="&apos;Liberation Sans&apos;, sans-serif" font-weight="bold" font-style="italic" textLength="17.14" lengthAdjust="spacingAndGlyphs">P</text>
<text transform="rotate(-90)" x="-343.79" y="30.41" font-size="18.50" font-family="&apos;Liberation Sans&apos;, sans-serif" font-weight="bold" textLength="24.03" lengthAdjust="spacingAndGlyphs">eff</text>
<text transform="rotate(-90)" x="-316.79" y="21.04" font-size="27.37" font-family="&apos;Liberation Sans&apos;, sans-serif" font-weight="bold" textLength="8.18" lengthAdjust="spacingAndGlyphs">|</text>
<text transform="rotate(-90)" x="-303.50" y="29.90" font-size="17.68" font-family="&apos;Liberation Sans&apos;, sans-serif" font-weight="bold" textLength="26.24" lengthAdjust="spacingAndGlyphs">ELF</text>
<text transform="rotate(-90)" x="-357.39" y="457.00" font-size="29.86" font-family="&apos;Liberation Sans&apos;, sans-serif" font-weight="bold" textLength="18.10" lengthAdjust="spacingAndGlyphs">Z</text>
<text transform="rotate(-90)" x="-341.20" y="464.61" font-size="18.78" font-family="&apos;Liberation Sans&apos;, sans-serif" font-weight="bold" textLength="24.34" lengthAdjust="spacingAndGlyphs">eff</text>
<text transform="rotate(-90)" x="-313.58" y="455.36" font-size="29.05" font-family="&apos;Liberation Sans&apos;, sans-serif" font-weight="bold" textLength="9.26" lengthAdjust="spacingAndGlyphs">|</text>
<text transform="rotate(-90)" x="-301.48" y="464.00" font-size="18.41" font-family="&apos;Liberation Sans&apos;, sans-serif" font-weight="bold" textLength="28.57" lengthAdjust="spacingAndGlyphs">ELF</text>
<text transform="rotate(-90)" x="-347.53" y="902.30" font-size="29.71" font-family="&apos;Liberation Sans&apos;, sans-serif" font-weight="bold" textLength="18.99" lengthAdjust="spacingAndGlyphs">Z</text>
<text transform="rotate(-90)" x="-330.41" y="909.51" font-size="19.32" font-family="&apos;Liberation Sans&apos;, sans-serif" font-weight="bold" textLength="24.65" lengthAdjust="spacingAndGlyphs">eff</text>
<text transform="rotate(-90)" x="-302.91" y="900.33" font-size="28.74" font-family="&apos;Liberation Sans&apos;, sans-serif" font-weight="bold" textLength="8.61" lengthAdjust="spacingAndGlyphs">|</text>
<text transform="rotate(-90)" x="-290.63" y="909.70" font-size="18.90" font-family="&apos;Liberation Sans&apos;, sans-serif" font-weight="bold" font-style="italic" textLength="9.29" lengthAdjust="spacingAndGlyphs">k</text>
<text transform="rotate(-90)" x="-350.33" y="1347.00" font-size="29.86" font-family="&apos;Liberation Sans&apos;, sans-serif" font-weight="bold" textLength="18.88" lengthAdjust="spacingAndGlyphs">Z</text>
<text transform="rotate(-90)" x="-333.20" y="1354.61" font-size="18.78" font-family="&apos;Liberation Sans&apos;, sans-serif" font-weight="bold" textLength="24.55" lengthAdjust="spacingAndGlyphs">eff</text>
<text transform="rotate(-90)" x="-307.12" y="1345.53" font-size="28.32" font-family="&apos;Liberation Sans&apos;, sans-serif" font-weight="bold" textLength="9.04" lengthAdjust="spacingAndGlyphs">|</text>
<text transform="rotate(-90)" x="-294.39" y="1353.81" font-size="19.27" font-family="&apos;Liberation Sans&apos;, sans-serif" font-weight="bold" font-style="italic" textLength="9.37" lengthAdjust="spacingAndGlyphs">ε</text>
<text transform="rotate(-90)" x="-284.72" y="1356.20" font-size="12.14" font-family="&apos;Liberation Sans&apos;, sans-serif" font-weight="bold" textLength="9.85" lengthAdjust="spacingAndGlyphs">2</text>
<text x="68.10" y="653.3" text-anchor="middle" font-family="&apos;Liberation Serif&apos;, serif" font-weight="bold" font-size="22.9">10<tspan dy="-9.30" font-size="15.9">-<tspan dx="-1.3">1</tspan></tspan></text>
<text x="152.98" y="653.3" text-anchor="middle" font-family="&apos;Liberation Serif&apos;, serif" font-weight="bold" font-size="22.9">10<tspan dy="-9.30" font-size="15.9">0</tspan></text>
<text x="236.50" y="653.3" text-anchor="middle" font-family="&apos;Liberation Serif&apos;, serif" font-weight="bold" font-size="22.9">10<tspan dy="-9.30" font-size="15.9">1</tspan></text>
<text x="320.03" y="653.3" text-anchor="middle" font-family="&apos;Liberation Serif&apos;, serif" font-weight="bold" font-size="22.9">10<tspan dy="-9.30" font-size="15.9">2</tspan></text>
<text x="403.55" y="653.3" text-anchor="middle" font-family="&apos;Liberation Serif&apos;, serif" font-weight="bold" font-size="22.9">10<tspan dy="-9.30" font-size="15.9">3</tspan></text>
<text x="502.60" y="653.3" text-anchor="middle" font-family="&apos;Liberation Serif&apos;, serif" font-weight="bold" font-size="23.5">10<tspan dy="-9.80" font-size="16.4">-<tspan dx="-1.3">1</tspan></tspan></text>
<text x="561.25" y="653.3" text-anchor="middle" font-family="&apos;Liberation Serif&apos;, serif" font-weight="bold" font-size="23.5">10<tspan dy="-9.80" font-size="16.4">0</tspan></text>
<text x="618.55" y="653.3" text-anchor="middle" font-family="&apos;Liberation Serif&apos;, serif" font-weight="bold" font-size="23.5">10<tspan dy="-9.80" font-size="16.4">1</tspan></text>
<text x="675.85" y="653.3" text-anchor="middle" font-family="&apos;Liberation Serif&apos;, serif" font-weight="bold" font-size="23.5">10<tspan dy="-9.80" font-size="16.4">2</tspan></text>
<text x="733.15" y="653.3" text-anchor="middle" font-family="&apos;Liberation Serif&apos;, serif" font-weight="bold" font-size="23.5">10<tspan dy="-9.80" font-size="16.4">3</tspan></text>
<text x="790.45" y="653.3" text-anchor="middle" font-family="&apos;Liberation Serif&apos;, serif" font-weight="bold" font-size="23.5">10<tspan dy="-9.80" font-size="16.4">4</tspan></text>
<text x="847.75" y="653.3" text-anchor="middle" font-family="&apos;Liberation Serif&apos;, serif" font-weight="bold" font-size="23.5">10<tspan dy="-9.80" font-size="16.4">5</tspan></text>
<text x="948.10" y="652.1" text-anchor="middle" font-family="&apos;Liberation Serif&apos;, serif" font-weight="bold" font-size="23.5">10<tspan dy="-8.60" font-size="16.4">-<tspan dx="-1.3">1</tspan></tspan></text>
<text x="1006.80" y="652.1" text-anchor="middle" font-family="&apos;Liberation Serif&apos;, serif" font-weight="bold" font-size="23.5">10<tspan dy="-8.60" font-size="16.4">0</tspan></text>
<text x="1064.15" y="652.1" text-anchor="middle" font-family="&apos;Liberation Serif&apos;, serif" font-weight="bold" font-size="23.5">10<tspan dy="-8.60" font-size="16.4">1</tspan></text>
<text x="1121.50" y="652.1" text-anchor="middle" font-family="&apos;Liberation Serif&apos;, serif" font-weight="bold" font-size="23.5">10<tspan dy="-8.60" font-size="16.4">2</tspan></text>
<text x="1178.85" y="652.1" text-anchor="middle" font-family="&apos;Liberation Serif&apos;, serif" font-weight="bold" font-size="23.5">10<tspan dy="-8.60" font-size="16.4">3</tspan></text>
<text x="1236.20" y="652.1" text-anchor="middle" font-family="&apos;Liberation Serif&apos;, serif" font-weight="bold" font-size="23.5">10<tspan dy="-8.60" font-size="16.4">4</tspan></text>
<text x="1293.55" y="652.1" text-anchor="middle" font-family="&apos;Liberation Serif&apos;, serif" font-weight="bold" font-size="23.5">10<tspan dy="-8.60" font-size="16.4">5</tspan></text>
<text x="1393.40" y="652.1" text-anchor="middle" font-family="&apos;Liberation Serif&apos;, serif" font-weight="bold" font-size="23.5">10<tspan dy="-8.60" font-size="16.4">-<tspan dx="-1.3">1</tspan></tspan></text>
<text x="1452.10" y="652.1" text-anchor="middle" font-family="&apos;Liberation Serif&apos;, serif" font-weight="bold" font-size="23.5">10<tspan dy="-8.60" font-size="16.4">0</tspan></text>
<text x="1509.45" y="652.1" text-anchor="middle" font-family="&apos;Liberation Serif&apos;, serif" font-weight="bold" font-size="23.5">10<tspan dy="-8.60" font-size="16.4">1</tspan></text>
<text x="1566.80" y="652.1" text-anchor="middle" font-family="&apos;Liberation Serif&apos;, serif" font-weight="bold" font-size="23.5">10<tspan dy="-8.60" font-size="16.4">2</tspan></text>
<text x="1624.15" y="652.1" text-anchor="middle" font-family="&apos;Liberation Serif&apos;, serif" font-weight="bold" font-size="23.5">10<tspan dy="-8.60" font-size="16.4">3</tspan></text>
<text x="1681.50" y="652.1" text-anchor="middle" font-family="&apos;Liberation Serif&apos;, serif" font-weight="bold" font-size="23.5">10<tspan dy="-8.60" font-size="16.4">4</tspan></text>
<text x="1738.85" y="652.1" text-anchor="middle" font-family="&apos;Liberation Serif&apos;, serif" font-weight="bold" font-size="23.5">10<tspan dy="-8.60" font-size="16.4">5</tspan></text>
</svg>
</body></html>
